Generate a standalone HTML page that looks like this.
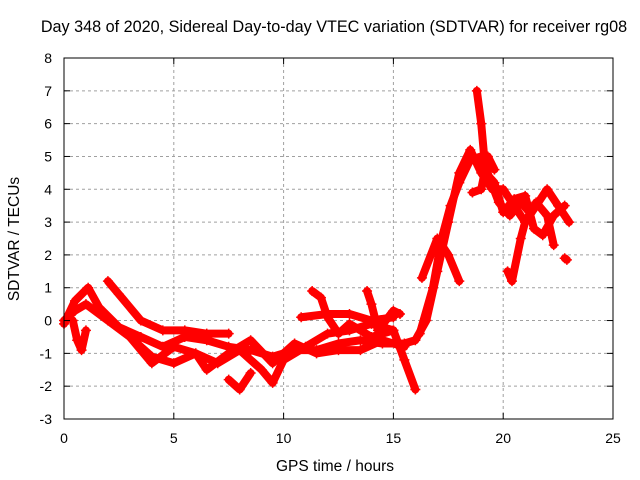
<!DOCTYPE html>
<html><head><meta charset="utf-8"><style>
body{margin:0;background:#fff}
svg{display:block;font-family:"Liberation Sans",sans-serif}
</style></head><body>
<svg id="chart" width="640" height="480">
<text x="334" y="32" font-size="16.2" text-anchor="middle">Day 348 of 2020, Sidereal Day-to-day VTEC variation (SDTVAR) for receiver rg08</text>
<text x="335" y="471" font-size="15.5" text-anchor="middle">GPS time / hours</text>
<text transform="translate(19,239) rotate(-90)" font-size="15.5" text-anchor="middle">SDTVAR / TECUs</text>
<g id="grid"></g><g id="marks"></g><g id="axes"></g>
</svg>
<script>
const xTicks=[0,5,10,15,20,25];
const yTicks=[-3,-2,-1,0,1,2,3,4,5,6,7,8];
const track1=[[0,-0.1],[0.5,0.6],[1.1,1.0],[1.6,0.4],[2.5,-0.2],[3.5,-0.5],[4.5,-0.8],[5.5,-0.5],[6.5,-0.6],[7.5,-0.8],[8.5,-0.9],[9.5,-1.1],[10.5,-0.9],[11.5,-0.9],[12.5,-0.7],[13.5,-0.6],[14.5,-0.7],[15.5,-0.7],[16,-0.6],[16.5,0],[17,1.5],[17.5,3],[18,4.5],[18.5,5.2],[19,4.5],[19.5,4.0],[20,4.0],[20.5,3.5],[21,3.0],[21.5,3.5],[22,4.0],[22.5,3.5],[23,3.0]];
const track2=[[0,0],[0.5,0.3],[1,0.5],[2,0],[3,-0.5],[4,-1.3],[5,-0.8],[6,-1],[7,-1.3],[8,-0.9],[9,-1.5],[9.5,-1.9],[10,-1.2],[11,-0.8],[12,-0.4],[13,-0.3],[14,-0.1],[15,-0.3],[15.5,-1.2],[16,-2.1]];
const track3=[[2,1.2],[2.5,0.8],[3.5,0],[4.5,-0.3],[5.5,-0.3],[6.5,-0.4],[7.5,-0.4]];
const track4=[[3,-0.5],[4,-1.1],[5,-1.3],[6,-1.0],[6.5,-1.5],[7.5,-1.0],[8.5,-0.6],[9.5,-1.3],[10.5,-0.7],[11.5,-1.0],[12.5,-0.9],[13.5,-0.9],[14.5,-0.6],[15.5,-0.8]];
const track5=[[7.5,-1.8],[8,-2.1],[8.5,-1.6]];
const track6=[[11.3,0.9],[11.7,0.7],[12,0.1],[12.5,-0.4],[13,-0.1],[14,-0.5],[15,-0.3]];
const track7=[[13.8,0.9],[14,0.5],[14.3,-0.3],[15,0.3],[15.3,0.2]];
const track8=[[10.8,0.1],[12,0.2],[13,0.2],[14,0],[15,0.1]];
const track9=[[16.3,1.3],[17,2.5],[17.5,2.0],[18,1.2]];
const track10=[[18.8,7.0],[19,6],[19.2,4.5],[19.6,4.2],[20,3.3],[20.5,3.7],[21,3.8],[21.4,2.8],[21.8,2.6],[22.3,3.2],[22.8,3.5]];
const track11=[[20.2,1.5],[20.4,1.2],[20.8,2.5],[21,3],[21.5,3.6],[22,3.2],[22.3,2.3]];
const track12=[[22.8,1.9],[22.9,1.85]];
const track13=[[0.4,0],[0.6,-0.6],[0.8,-0.9],[1,-0.3]];
const track14=[[16.2,-0.4],[16.8,1.0],[17.2,2.5],[17.6,3.5],[18,4.2],[18.5,4.9],[19,5.0],[19.4,4.3],[19.8,3.6],[20.3,3.2],[20.8,3.6],[21.2,3.3]];
const track15=[[18.6,3.9],[19,4.0],[19.3,5.0],[19.6,4.6]];
const tracks=[track1,track2,track3,track4,track5,track6,track7,track8,track9,track10,track11,track12,track13,track14,track15];
const L=64,R=613,T=58,B=419;
const xs=v=>L+(v-0)/25*(R-L);
const ys=v=>B-(v+3)/11*(B-T);
const NS="http://www.w3.org/2000/svg";
function mk(tag,attrs,parent){const e=document.createElementNS(NS,tag);for(const k in attrs)e.setAttribute(k,attrs[k]);parent.appendChild(e);return e;}
const grid=document.getElementById('grid'),axes=document.getElementById('axes'),marks=document.getElementById('marks');
xTicks.forEach(t=>{const x=xs(t);
 if(t>0&&t<25){const g=mk('line',{x1:x,x2:x,y1:T,y2:B,stroke:'#a0a0a0','stroke-dasharray':'3,3'},grid);
 
 }
 mk('line',{x1:x,x2:x,y1:B,y2:B-6,stroke:'#000'},axes);mk('line',{x1:x,x2:x,y1:T,y2:T+6,stroke:'#000'},axes);
 const tx=mk('text',{x:x,y:B+24,'font-size':14,'text-anchor':'middle'},axes);tx.textContent=t;
 
 });
yTicks.forEach(t=>{const y=ys(t);
 if(t>-3&&t<8){const g=mk('line',{x1:L,x2:R,y1:y,y2:y,stroke:'#a0a0a0','stroke-dasharray':'3,3'},grid);
 
 }
 mk('line',{x1:L,x2:L+6,y1:y,y2:y,stroke:'#000'},axes);mk('line',{x1:R,x2:R-6,y1:y,y2:y,stroke:'#000'},axes);
 const tx=mk('text',{x:L-12,y:y+5,'font-size':14,'text-anchor':'end'},axes);tx.textContent=t;
 
 });
const fr=mk('rect',{x:L,y:T,width:R-L,height:B-T,fill:'none',stroke:'#000'},axes);


tracks.forEach(tr=>{
 const p=mk('polyline',{points:tr.map(d=>xs(d[0])+','+ys(d[1])).join(' '),fill:'none',stroke:'#ff0000','stroke-width':8,'stroke-linejoin':'round','stroke-linecap':'round'},marks);
 
 
 tr.forEach(d=>{const x=xs(d[0]),y=ys(d[1]);
  const m=mk('path',{d:`M${x-5},${y}h10M${x},${y-5}v10`,stroke:'#ff0000','stroke-width':1.5},marks);
  
  });
});
</script>
</body></html>
